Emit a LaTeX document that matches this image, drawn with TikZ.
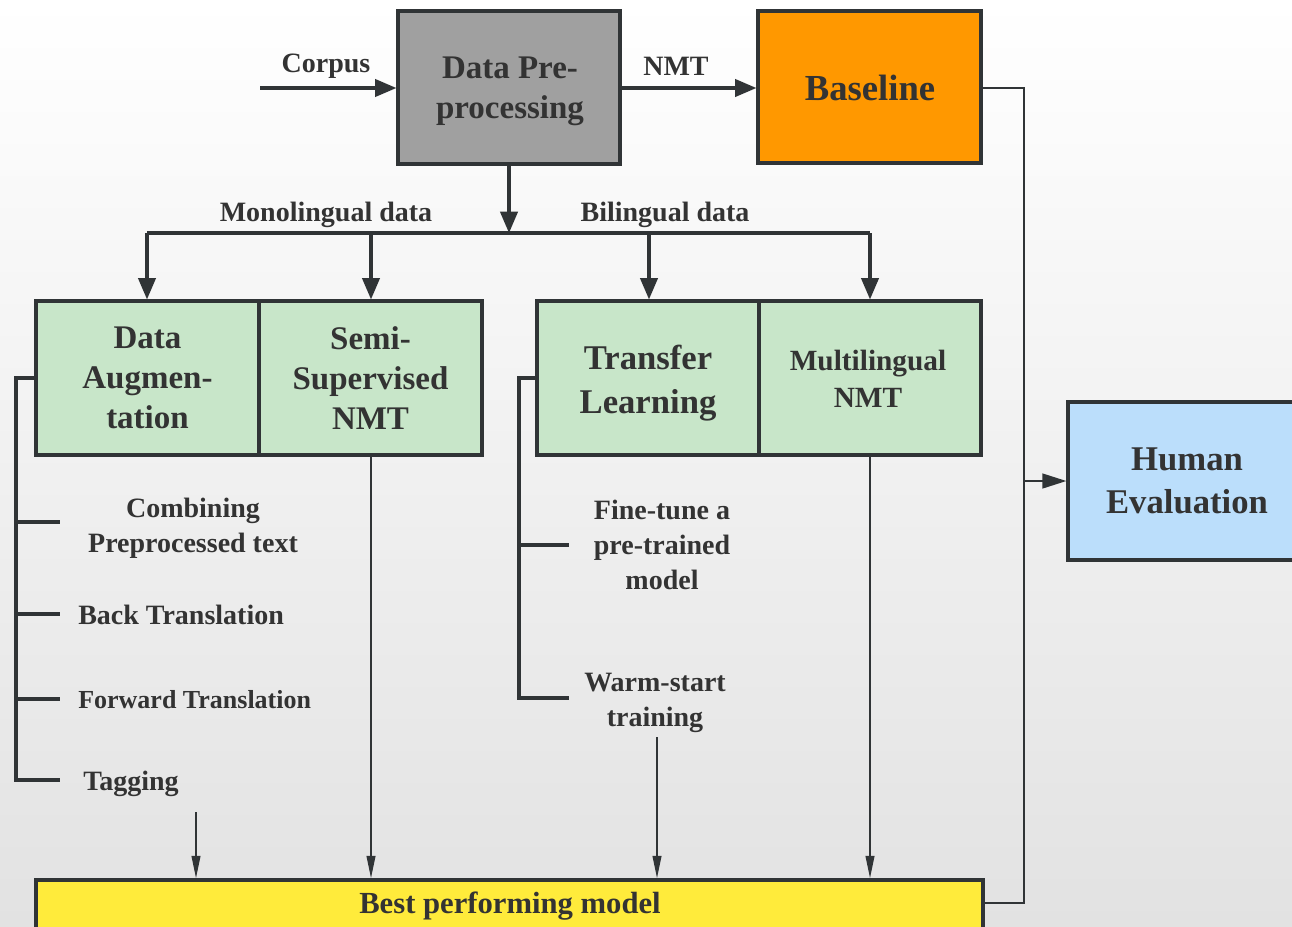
\documentclass[tikz,border=0pt]{standalone}
\usepackage{fontspec}
\setmainfont{Liberation Serif}
\usetikzlibrary{arrows.meta}
\definecolor{ink}{HTML}{303436}
\definecolor{txt}{HTML}{333333}
\definecolor{bgb}{HTML}{E2E2E2}
\definecolor{pregray}{HTML}{A0A0A0}
\definecolor{orangebox}{HTML}{FF9800}
\definecolor{greenbox}{HTML}{C8E6C9}
\definecolor{bluebox}{HTML}{BBDEFB}
\definecolor{yellowbox}{HTML}{FFEB3B}
\begin{document}
\begin{tikzpicture}[x=0.75pt,y=-0.75pt,
  box/.style={draw=ink,line width=2.4pt,align=center,inner sep=0pt,text=txt,font=\bfseries},
  lbl/.style={inner sep=0pt,text=txt,font=\bfseries\fontsize{21}{26}\selectfont},
  item/.style={inner sep=0pt,text=txt,align=center,font=\bfseries\fontsize{21}{26.25}\selectfont},
  conn/.style={draw=ink,line width=2.3pt},
  bigarrow/.style={conn,-{Triangle[length=16pt,width=13pt]}},
  thinarrow/.style={draw=ink,line width=1.6pt,-{Triangle[length=17pt,width=6.5pt]}},
  bracket/.style={draw=ink,line width=2.4pt}]
\useasboundingbox (0,0) rectangle (1292,926);
\shade[top color=white,bottom color=bgb] (0,0) rectangle (1292,926);

% top row
\node[box,fill=pregray,minimum width=166.5pt,minimum height=114.75pt,
  font=\bfseries\fontsize{24.75}{30}\selectfont] (pre) at (509,87.5) {};
\node[inner sep=0pt,align=center,text=txt,font=\bfseries\fontsize{24.75}{30}\selectfont] (pretxt) at (510,91) {Data Pre-\\processing};
\node[box,fill=orangebox,minimum width=167.25pt,minimum height=114pt,
  font=\bfseries\fontsize{27.5}{33}\selectfont] (base) at (869.5,87) {};
\node[inner sep=0pt,text=txt,font=\bfseries\fontsize{27.5}{33}\selectfont] (basetxt) at (870,88) {Baseline};
\coordinate (cin) at (260,88);
\draw[bigarrow] (cin) -- (pre.west |- cin);
\draw[bigarrow] (pre.east |- cin) -- (base.west |- cin);
\node[lbl] (lcorpus) at (326,66) {Corpus};
\node[lbl] (lnmt) at (676,66) {NMT};

% green boxes
\node[box,fill=greenbox,minimum width=167.25pt,minimum height=115.5pt,
  font=\bfseries\fontsize{24.75}{30}\selectfont] (da) at (147.5,378) {Data\\Augmen-\\tation};
\node[box,fill=greenbox,minimum width=167.25pt,minimum height=115.5pt,
  font=\bfseries\fontsize{24.75}{30}\selectfont] (ss) at (370.5,378) {Semi-\\Supervised\\NMT};
\node[box,fill=greenbox,minimum width=166.5pt,minimum height=115.5pt] (tl) at (648,378) {};
\node[inner sep=0pt,align=center,text=txt,font=\bfseries\fontsize{26}{33}\selectfont] (tltxt) at (648,383) {Transfer\\Learning};
\node[box,fill=greenbox,minimum width=166.5pt,minimum height=115.5pt] (ml) at (870,378) {};
\node[inner sep=0pt,align=center,text=txt,font=\bfseries\fontsize{22}{27.75}\selectfont] (mltxt) at (868,379) {Multilingual\\NMT};

% bus
\coordinate (busL) at (147,233);
\coordinate (busR) at (870,233);
\coordinate (busM) at (509,233);
\draw[bigarrow] (pre.south) -- (busM);
\draw[conn] (busL) -- (busR);
\draw[bigarrow] (busL) -- (da.north -| busL);
\draw[bigarrow] (371,233) -- (ss.north -| 371,0);
\draw[bigarrow] (649,233) -- (tl.north -| 649,0);
\draw[bigarrow] (busR) -- (ml.north -| busR);
\node[lbl] (lmono) at (326,215) {Monolingual data};
\node[lbl] (lbi) at (665,215) {Bilingual data};

% human evaluation
\node[box,fill=bluebox,minimum width=178.5pt,minimum height=118.5pt,
  font=\bfseries\fontsize{26}{32}\selectfont] (human) at (1187,481) {Human\\Evaluation};

% best performing model
\node[box,fill=yellowbox,minimum width=710.25pt,minimum height=37.5pt] (best) at (509.5,905) {};
\node[inner sep=0pt,text=txt,font=\bfseries\fontsize{23}{28}\selectfont] (bestlbl) at (510,906) {Best performing model};

% right loop
\coordinate (rtop) at (1024,88);
\coordinate (rmid) at (1024,481);
\coordinate (rbot) at (1024,903);
\draw[draw=ink,line width=1.7pt] (base.east |- rtop) -- (rtop) -- (rbot) -- (best.east |- rbot);
\draw[draw=ink,line width=1.7pt,-{Triangle[length=18pt,width=11pt]}] (rmid) -- (human.west);

% data augmentation bracket
\coordinate (dab) at (16,378);
\coordinate (dae) at (16,780);
\draw[bracket] (da.west |- dab) -- (dab) -- (dae) -- (60,780);
\coordinate (t1) at (16,522);
\coordinate (t2) at (16,614);
\coordinate (t3) at (16,699);
\draw[bracket] (t1) -- (60,522);
\draw[bracket] (t2) -- (60,614);
\draw[bracket] (t3) -- (60,699);
\node[item] (comb) at (193,528) {Combining\\Preprocessed text};
\node[item,anchor=west] (back) at (78,615) {Back Translation};
\node[item,anchor=west,font=\bfseries\fontsize{19.5}{24}\selectfont] (fwd) at (78,700) {Forward Translation};
\node[item,anchor=west] (tag) at (83,784) {Tagging};

% transfer bracket
\coordinate (tlb) at (519,378);
\coordinate (tle) at (519,698);
\draw[bracket] (tl.west |- tlb) -- (tlb) -- (tle) -- (569,698);
\coordinate (u1) at (519,545);
\draw[bracket] (u1) -- (569,545);
\node[item] (fine) at (662,545) {Fine-tune a\\pre-trained\\model};
\node[item] (warm) at (655,703) {Warm-start\\training};

% arrows into best
\coordinate (tagfrom) at (196,812);
\coordinate (warmfrom) at (657,737);
\draw[thinarrow] (tagfrom) -- (best.north -| tagfrom);
\draw[thinarrow] (ss.south -| 371,0) -- (best.north -| 371,0);
\draw[thinarrow] (warmfrom) -- (best.north -| warmfrom);
\draw[thinarrow] (ml.south) -- (best.north -| ml.south);
\end{tikzpicture}
\end{document}
